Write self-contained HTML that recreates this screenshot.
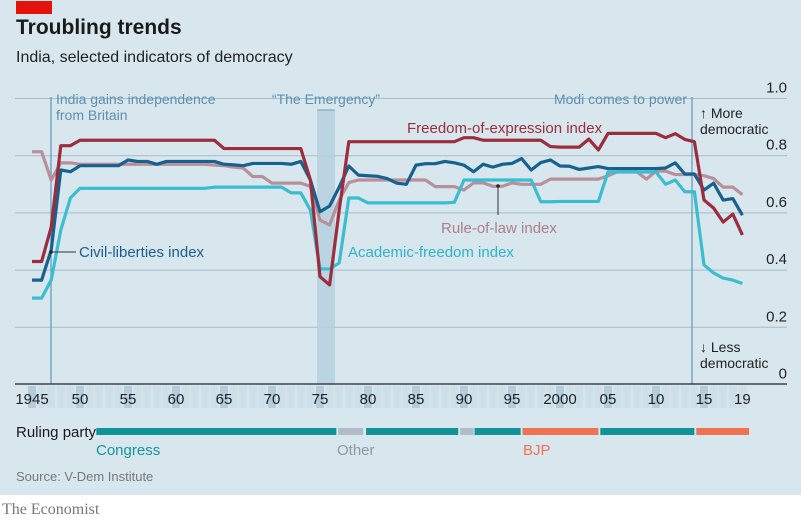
<!DOCTYPE html>
<html><head><meta charset="utf-8"><style>
body{margin:0;width:801px;height:523px;background:#fff;overflow:hidden;font-family:"Liberation Sans",sans-serif}
svg text{font-family:"Liberation Sans",sans-serif}
</style></head><body>
<svg id="c" width="801" height="523" viewBox="0 0 801 523">
<rect x="0" y="0" width="801" height="495" fill="#d8e6ee"/>
<rect x="16" y="1" width="36" height="13" fill="#e3120b"/>
<text x="16" y="34" font-size="21" font-weight="bold" fill="#1a1a1a">Troubling trends</text>
<text x="16" y="62" font-size="16" fill="#222">India, selected indicators of democracy</text>
<g id="grid"></g>
<g id="stripes"></g>
<rect x="317" y="110" width="18" height="274" fill="#b4cfdf" opacity="0.8"/>
<line x1="317" y1="110" x2="335" y2="110" stroke="#6fa0bf" stroke-width="1"/>
<text x="326" y="104" font-size="14" fill="#5d8fb0" text-anchor="middle">“The Emergency”</text>
<line x1="51" y1="97" x2="51" y2="384" stroke="#5d9ab9" stroke-width="1.2"/>
<text x="56" y="104" font-size="14" fill="#5d8fb0">India gains independence</text>
<text x="56" y="120" font-size="14" fill="#5d8fb0">from Britain</text>
<line x1="692" y1="97" x2="692" y2="384" stroke="#5d9ab9" stroke-width="1.2"/>
<text x="687" y="104" font-size="14" fill="#5d8fb0" text-anchor="end">Modi comes to power</text>
<text x="700" y="118" font-size="14" fill="#222">↑ More</text>
<text x="700" y="134" font-size="14" fill="#222">democratic</text>
<text x="700" y="352" font-size="14" fill="#222">↓ Less</text>
<text x="700" y="368" font-size="14" fill="#222">democratic</text>
<g id="series"></g>
<line x1="15" y1="384" x2="787" y2="384" stroke="#222" stroke-width="1.2"/>
<g id="xlabels"></g>
<text x="407" y="133" font-size="15" fill="#9b2d3c">Freedom-of-expression index</text>
<text x="441" y="233" font-size="15" fill="#b07d8a">Rule-of-law index</text>
<line x1="498" y1="186" x2="498" y2="215" stroke="#333" stroke-width="1"/>
<text x="348" y="257" font-size="15" fill="#2fb3c8">Academic-freedom index</text>
<text x="79" y="257" font-size="15" fill="#1b5e8c">Civil-liberties index</text>
<line x1="51" y1="252" x2="76" y2="252" stroke="#333" stroke-width="1"/>
<text x="16" y="437" font-size="15" fill="#1a1a1a">Ruling party</text>
<g id="party"></g>
<text x="96" y="455" font-size="15" fill="#17959b">Congress</text>
<text x="337" y="455" font-size="15" fill="#8a9aa5">Other</text>
<text x="523" y="455" font-size="15" fill="#ef7350">BJP</text>
<text x="16" y="481" font-size="13" fill="#777">Source: V-Dem Institute</text>
<text x="2" y="514" font-size="16" fill="#777" style="font-family:'Liberation Serif',serif">The Economist</text>
</svg>
<script>
const years=[];for(let y=1945;y<=2019;y++)years.push(y);
const yTicks=[0,0.2,0.4,0.6,0.8,1.0];
const yTickLabels=["0","0.2","0.4","0.6","0.8","1.0"];
const xTickYears=[1945,1950,1955,1960,1965,1970,1975,1980,1985,1990,1995,2000,2005,2010,2015,2019];
const xTickLabels=["1945","50","55","60","65","70","75","80","85","90","95","2000","05","10","15","19"];
const freedomExpression=[0.43,0.43,0.55,0.835,0.835,0.854,0.854,0.854,0.854,0.854,0.854,0.854,0.854,0.854,0.854,0.854,0.854,0.854,0.854,0.854,0.825,0.825,0.825,0.825,0.825,0.825,0.825,0.825,0.825,0.715,0.377,0.348,0.61,0.849,0.849,0.849,0.849,0.849,0.849,0.849,0.849,0.849,0.849,0.849,0.849,0.863,0.863,0.854,0.854,0.854,0.854,0.854,0.854,0.854,0.832,0.83,0.83,0.83,0.858,0.82,0.878,0.878,0.878,0.878,0.878,0.878,0.863,0.877,0.857,0.849,0.645,0.617,0.568,0.596,0.523];
const civilLiberties=[0.365,0.365,0.47,0.75,0.744,0.765,0.765,0.765,0.765,0.765,0.785,0.78,0.78,0.77,0.78,0.78,0.78,0.78,0.78,0.78,0.77,0.768,0.765,0.773,0.773,0.773,0.773,0.77,0.78,0.715,0.604,0.624,0.69,0.764,0.732,0.73,0.728,0.72,0.704,0.70,0.767,0.772,0.772,0.78,0.775,0.767,0.744,0.77,0.76,0.77,0.773,0.79,0.75,0.776,0.785,0.764,0.763,0.752,0.757,0.762,0.755,0.755,0.755,0.755,0.755,0.755,0.757,0.775,0.736,0.736,0.68,0.704,0.645,0.65,0.592];
const ruleOfLaw=[0.814,0.814,0.715,0.775,0.775,0.77,0.77,0.77,0.77,0.77,0.77,0.77,0.77,0.77,0.77,0.77,0.77,0.77,0.77,0.767,0.765,0.76,0.757,0.727,0.727,0.704,0.704,0.704,0.704,0.693,0.575,0.558,0.645,0.706,0.715,0.715,0.715,0.715,0.715,0.715,0.715,0.715,0.692,0.692,0.692,0.68,0.705,0.705,0.693,0.693,0.705,0.7,0.7,0.7,0.718,0.718,0.718,0.718,0.718,0.718,0.73,0.744,0.744,0.744,0.718,0.746,0.746,0.734,0.734,0.734,0.73,0.72,0.69,0.69,0.664];
const academicFreedom=[0.302,0.302,0.365,0.54,0.652,0.686,0.686,0.686,0.686,0.686,0.686,0.686,0.686,0.686,0.686,0.686,0.686,0.686,0.686,0.69,0.69,0.69,0.69,0.69,0.69,0.69,0.69,0.67,0.67,0.61,0.404,0.404,0.425,0.652,0.652,0.635,0.635,0.635,0.635,0.635,0.635,0.635,0.635,0.635,0.637,0.715,0.715,0.715,0.715,0.715,0.715,0.715,0.715,0.639,0.639,0.64,0.64,0.64,0.64,0.64,0.743,0.743,0.743,0.743,0.743,0.743,0.70,0.715,0.674,0.674,0.418,0.39,0.372,0.365,0.353];
const partyNames=["Congress","Other","Congress","Other","Congress","BJP","Congress","BJP"];
const partyStart=[1951.7,1976.9,1979.8,1989.6,1991.1,1996.1,2004.2,2014.2];
const partyEnd=[1976.7,1979.5,1989.4,1991.0,1995.9,2004.0,2014.0,2019.7];
const partyColors={Congress:"#11939a",Other:"#b0bcc6",BJP:"#ef7350"};
const X=y=>32+(y-1945)*9.6, Y=v=>384.5-v*286;
const NS="http://www.w3.org/2000/svg";
function mk(t,p,a){const e=document.createElementNS(NS,t);for(const k in a)e.setAttribute(k,a[k]);p.appendChild(e);return e;}
const grid=document.getElementById('grid');
yTicks.forEach((v,i)=>{
 if(v>0){const l=mk('line',grid,{x1:15,x2:787,y1:Y(v),y2:Y(v),stroke:'#a9bcc8','stroke-width':1});
 
 }
 const t=mk('text',grid,{x:787,y:Y(v)-6,'font-size':15,fill:'#222','text-anchor':'end'});t.textContent=yTickLabels[i];
 
 
});
const st=document.getElementById('stripes');
years.forEach(y=>{
 const major=(y%5===0);
 const r=mk('rect',st,{x:X(y)-4,y:386,width:8,height:22,fill:major?'#b3cddc':'#cddfe9'});
 
 
});
const xl=document.getElementById('xlabels');
xTickYears.forEach((y,i)=>{
 const t=mk('text',xl,{x:X(y),y:404,'font-size':15,fill:'#222','text-anchor':'middle'});t.textContent=xTickLabels[i];
 
 
});
const sg=document.getElementById('series');
[[ruleOfLaw,'#b8909b','rule-of-law-line'],[academicFreedom,'#3bbdd0','academic-freedom-line'],[civilLiberties,'#17618f','civil-liberties-line'],[freedomExpression,'#9b2d3c','freedom-of-expression-line']].forEach(([d,c,n])=>{
 const p=mk('polyline',sg,{points:d.map((v,i)=>X(years[i])+','+Y(v)).join(' '),fill:'none',stroke:c,'stroke-width':3.2,'stroke-linejoin':'round'});
 
 
});
mk('circle',sg,{cx:498,cy:186,r:1.8,fill:'#222'});
mk('circle',sg,{cx:51,cy:252,r:1.8,fill:'#222'});
const pg=document.getElementById('party');
partyNames.forEach((n,i)=>{
 const r=mk('rect',pg,{x:X(partyStart[i]),y:428,width:X(partyEnd[i])-X(partyStart[i]),height:7,fill:partyColors[n]});
 
 
});
</script>
</body></html>
